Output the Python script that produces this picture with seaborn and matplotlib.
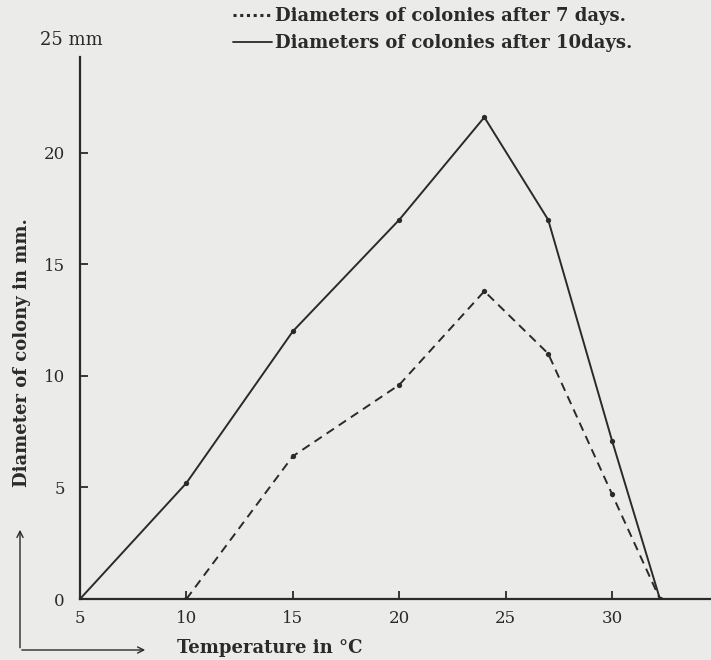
import numpy as np
import pandas as pd
import seaborn as sns
import matplotlib
matplotlib.use("Agg")
import matplotlib.pyplot as plt
from matplotlib.lines import Line2D

# values
temp_10days = [5, 10, 15, 20, 24, 27, 30, 32.25]
diam_10days = [0, 5.2, 12.0, 17.0, 21.6, 17.0, 7.1, 0]
temp_7days = [10, 15, 20, 24, 27, 30, 32.25]
diam_7days = [0, 6.4, 9.6, 13.8, 11.0, 4.7, 0]
x_ticks = [5, 10, 15, 20, 25, 30]
y_ticks = [0, 5, 10, 15, 20]
label_7 = "Diameters of colonies after 7 days."
label_10 = "Diameters of colonies after 10days."

sns.set_style("ticks")
plt.rcParams["font.family"] = ["DejaVu Serif"]

ink = "#2a2a2a"
paper = "#ebebea"

fig = plt.figure(figsize=(7.11, 6.6), dpi=100, facecolor=paper)
# axes placed so the origin sits where the scan has it
ax = fig.add_axes([80 / 711, 61 / 660, 631 / 711, 542 / 660])
ax.set_facecolor(paper)

df10 = pd.DataFrame({"temp": temp_10days, "diam": diam_10days})
df7 = pd.DataFrame({"temp": temp_7days, "diam": diam_7days})

sns.lineplot(data=df10, x="temp", y="diam", ax=ax, color=ink, linewidth=1.4,
             marker="o", markersize=3.8, markeredgewidth=0, estimator=None)
sns.lineplot(data=df7, x="temp", y="diam", ax=ax, color=ink, linewidth=1.4,
             linestyle=(0, (4.5, 3)), marker="o", markersize=3.8,
             markeredgewidth=0, estimator=None)

ax.set_xlim(5, 34.65)
ax.set_ylim(0, 24.3)
ax.set_xticks(x_ticks)
ax.set_yticks(y_ticks)
ax.tick_params(direction="in", length=6, width=1.3, color=ink,
               labelsize=12, labelcolor=ink)
ax.tick_params(axis="y", pad=11)
ax.tick_params(axis="x", pad=8)

for side in ["top", "right"]:
    ax.spines[side].set_visible(False)
for side in ["left", "bottom"]:
    ax.spines[side].set_linewidth(1.6)
    ax.spines[side].set_color(ink)

ax.set_xlabel("Temperature in °C", fontsize=13, fontweight="bold", color=ink, va="center")
ax.xaxis.set_label_coords((270 - 80) / 631, -(648 - 599) / 542)
ax.set_ylabel("Diameter of colony in mm.", fontsize=13, fontweight="bold", color=ink, va="center")
ax.yaxis.set_label_coords(-(80 - 22) / 631, (599 - 353) / 542)

ax.text(-(80 - 71) / 631, (599 - 40) / 542, "25 mm", transform=ax.transAxes,
        ha="center", va="center", fontsize=13, color=ink, clip_on=False)

# small L-shaped arrows in the lower left corner
arrow = dict(arrowstyle="->", color=ink, lw=1.0, mutation_scale=11)
ax.annotate("", xy=(148 / 711, 1 - 650 / 660), xytext=(19 / 711, 1 - 650 / 660),
            xycoords="figure fraction", textcoords="figure fraction", arrowprops=arrow)
ax.annotate("", xy=(20 / 711, 1 - 527 / 660), xytext=(20 / 711, 1 - 650.5 / 660),
            xycoords="figure fraction", textcoords="figure fraction", arrowprops=arrow)

handles = [Line2D([], [], color=ink, linestyle=(0, (1, 1.2)), linewidth=2.2),
           Line2D([], [], color=ink, linestyle="-", linewidth=1.3)]
fig.legend(handles, [label_7, label_10], loc="upper left",
           bbox_to_anchor=(233 / 711, 1 - 7 / 660), frameon=False,
           borderpad=0, borderaxespad=0, handlelength=2.15, handletextpad=0.17,
           labelspacing=0.52, prop={"family": "DejaVu Serif", "weight": "bold", "size": 13},
           labelcolor=ink)

fig.savefig("out.png", dpi=100, facecolor=paper)
